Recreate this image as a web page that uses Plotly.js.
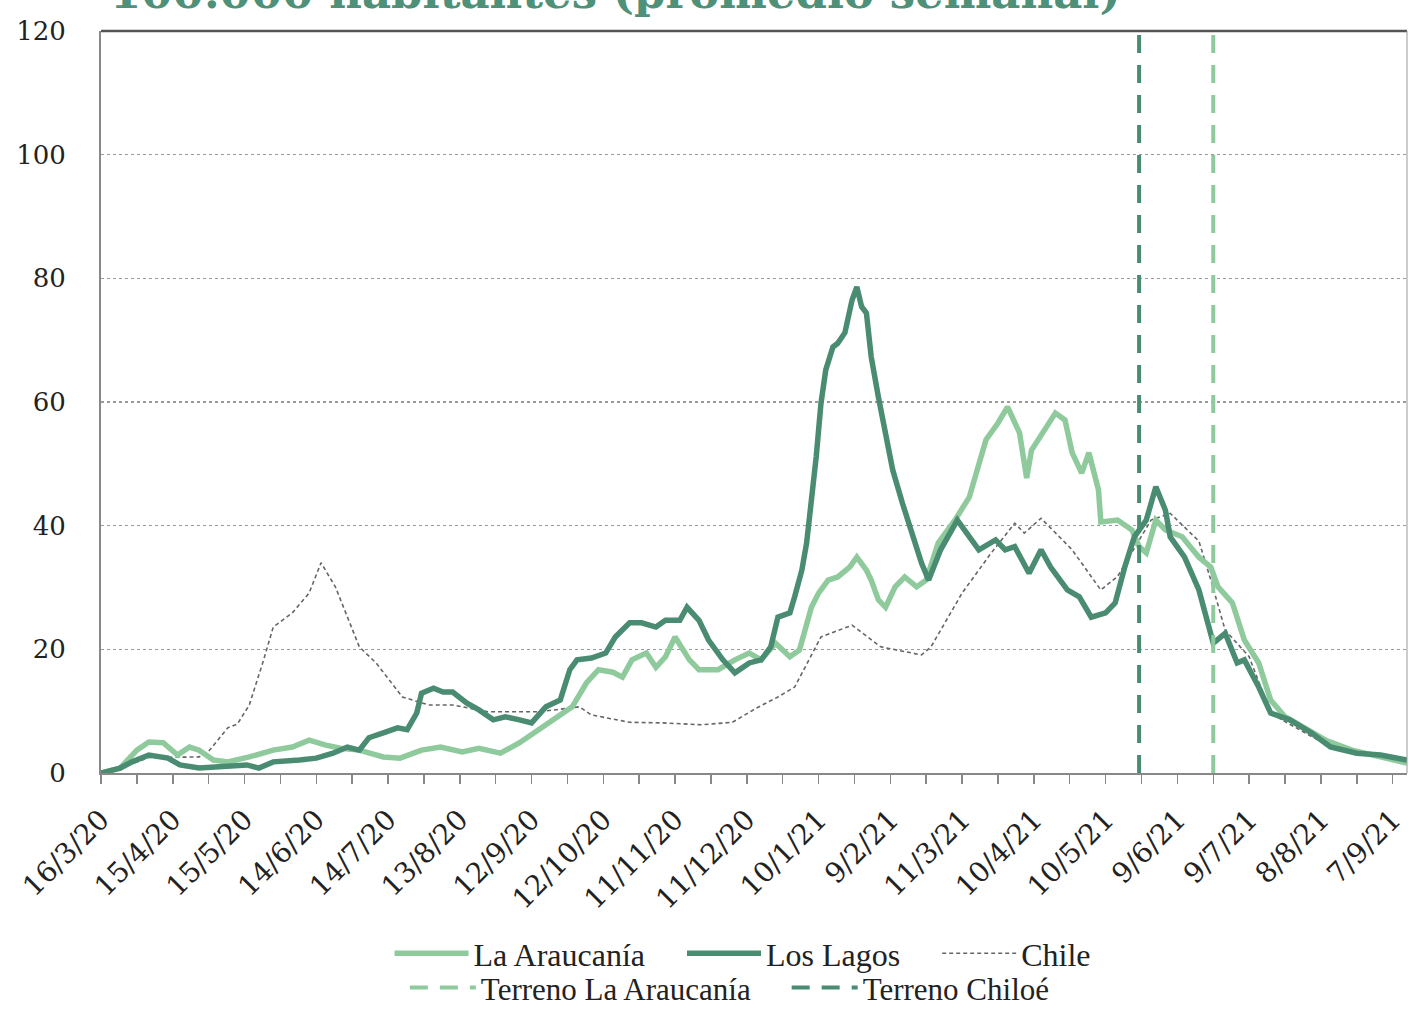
<!DOCTYPE html>
<html>
<head>
<meta charset="utf-8">
<script src="https://cdn.plot.ly/plotly-3.0.1.min.js"></script>
<style>html,body{margin:0;padding:0;background:#fff;}#chart{width:1409px;height:1010px;}</style>
</head>
<body>
<div id="chart"></div>
<script>
// ---- Data ----
const chileDates = ['2020-03-16','2020-03-24','2020-04-05','2020-04-17','2020-04-26','2020-04-30','2020-05-08','2020-05-12','2020-05-17','2020-05-23','2020-05-27','2020-06-04','2020-06-11','2020-06-16','2020-06-22','2020-07-02','2020-07-09','2020-07-20','2020-07-31','2020-08-10','2020-08-25','2020-09-15','2020-10-02','2020-10-07','2020-10-23','2020-11-06','2020-11-22','2020-12-05','2020-12-15','2020-12-24','2020-12-31','2021-01-11','2021-01-24','2021-02-05','2021-02-22','2021-02-26','2021-03-07','2021-03-11','2021-03-23','2021-04-02','2021-04-06','2021-04-13','2021-04-26','2021-05-08','2021-05-15','2021-05-29','2021-06-06','2021-06-18','2021-06-23','2021-06-29','2021-07-09','2021-07-18','2021-07-25','2021-08-12','2021-08-26','2021-09-13'];
const chileValues = [0,0.8,2.5,2.6,2.6,3.5,7.3,7.9,11.0,18.3,23.6,25.9,29.1,34.0,30.1,20.4,17.8,12.3,11.0,11.0,9.9,9.9,10.7,9.4,8.2,8.1,7.8,8.2,10.5,12.3,13.9,22.0,23.9,20.4,19.1,20.4,26.4,29.1,35.5,40.4,38.8,41.2,36.1,29.6,31.8,40.9,42.0,37.5,31.2,23.1,18.8,9.7,8.1,4.2,3.2,1.8];

const araucaniaDates = ['2020-03-16','2020-03-24','2020-03-31','2020-04-05','2020-04-11','2020-04-17','2020-04-22','2020-04-26','2020-05-02','2020-05-08','2020-05-17','2020-05-27','2020-06-04','2020-06-11','2020-06-18','2020-06-24','2020-07-02','2020-07-12','2020-07-19','2020-07-28','2020-08-05','2020-08-14','2020-08-21','2020-08-30','2020-09-07','2020-09-15','2020-09-22','2020-09-29','2020-10-05','2020-10-10','2020-10-16','2020-10-20','2020-10-24','2020-10-30','2020-11-03','2020-11-07','2020-11-11','2020-11-17','2020-11-21','2020-11-29','2020-12-06','2020-12-12','2020-12-17','2020-12-23','2020-12-29','2021-01-02','2021-01-07','2021-01-10','2021-01-14','2021-01-18','2021-01-23','2021-01-26','2021-01-30','2021-02-01','2021-02-04','2021-02-07','2021-02-11','2021-02-15','2021-02-20','2021-02-24','2021-03-01','2021-03-08','2021-03-14','2021-03-21','2021-03-26','2021-03-30','2021-04-04','2021-04-07','2021-04-09','2021-04-15','2021-04-19','2021-04-23','2021-04-26','2021-04-30','2021-05-03','2021-05-07','2021-05-08','2021-05-15','2021-05-21','2021-05-24','2021-05-27','2021-05-31','2021-06-04','2021-06-11','2021-06-18','2021-06-23','2021-06-26','2021-07-02','2021-07-07','2021-07-13','2021-07-18','2021-07-24','2021-08-01','2021-08-10','2021-08-21','2021-09-02','2021-09-13'];
const araucaniaValues = [0,0.8,3.7,5.0,4.9,2.9,4.2,3.7,2.1,1.8,2.6,3.7,4.2,5.3,4.5,4.0,3.7,2.6,2.4,3.7,4.2,3.4,4.0,3.2,4.9,7.0,8.6,10.7,14.6,16.7,16.3,15.5,18.3,19.4,17.1,18.8,22.0,18.3,16.7,16.7,18.3,19.4,18.3,21.0,18.8,19.9,26.8,29.1,31.2,31.7,33.3,34.9,32.8,31.2,28.0,26.8,30.1,31.7,30.1,31.2,37.2,40.9,44.6,53.9,56.6,59.2,55.0,47.7,52.2,56.0,58.2,57.1,51.8,48.5,51.8,45.8,40.6,40.9,39.3,36.6,35.6,40.9,39.3,38.2,34.9,33.3,30.1,27.5,21.5,17.8,11.8,9.1,7.4,5.3,3.7,2.6,1.6];

const lagosDates = ['2020-03-16','2020-03-24','2020-03-29','2020-04-05','2020-04-13','2020-04-18','2020-04-26','2020-05-08','2020-05-16','2020-05-21','2020-05-27','2020-06-07','2020-06-14','2020-06-21','2020-06-27','2020-07-02','2020-07-06','2020-07-12','2020-07-18','2020-07-22','2020-07-26','2020-07-28','2020-08-02','2020-08-06','2020-08-10','2020-08-16','2020-08-21','2020-08-27','2020-09-01','2020-09-07','2020-09-12','2020-09-18','2020-09-24','2020-09-28','2020-10-01','2020-10-07','2020-10-13','2020-10-17','2020-10-23','2020-10-28','2020-11-03','2020-11-07','2020-11-13','2020-11-16','2020-11-21','2020-11-25','2020-12-01','2020-12-06','2020-12-12','2020-12-17','2020-12-21','2020-12-24','2020-12-29','2020-12-31','2021-01-03','2021-01-05','2021-01-07','2021-01-09','2021-01-11','2021-01-13','2021-01-16','2021-01-18','2021-01-21','2021-01-24','2021-01-26','2021-01-28','2021-01-30','2021-02-01','2021-02-04','2021-02-07','2021-02-10','2021-02-14','2021-02-18','2021-02-22','2021-02-25','2021-03-02','2021-03-09','2021-03-14','2021-03-18','2021-03-25','2021-03-29','2021-04-02','2021-04-08','2021-04-13','2021-04-17','2021-04-24','2021-04-29','2021-05-04','2021-05-10','2021-05-14','2021-05-18','2021-05-22','2021-05-27','2021-05-31','2021-06-04','2021-06-06','2021-06-12','2021-06-18','2021-06-22','2021-06-24','2021-06-29','2021-07-04','2021-07-07','2021-07-13','2021-07-18','2021-07-26','2021-08-04','2021-08-12','2021-08-23','2021-09-02','2021-09-13'];
const lagosValues = [0,0.8,1.8,2.9,2.4,1.3,0.8,1.0,1.3,0.8,1.8,2.1,2.4,3.2,4.2,3.7,5.7,6.5,7.3,7.0,9.7,12.9,13.7,13.1,13.1,11.3,10.2,8.6,9.1,8.6,8.1,10.7,11.8,16.7,18.3,18.6,19.4,22.0,24.3,24.3,23.6,24.7,24.7,26.8,24.7,21.5,18.3,16.2,17.8,18.3,20.4,25.2,25.9,28.5,32.8,37.2,43.7,51.1,59.8,65.2,68.9,69.5,71.2,76.5,78.6,75.4,74.4,67.3,60.8,54.3,49.0,43.7,38.8,34.0,31.2,36.1,40.9,38.2,36.1,37.7,36.1,36.6,32.3,36.1,33.3,29.6,28.5,25.2,25.9,27.5,33.3,38.2,40.9,46.3,42.5,38.2,34.9,29.6,24.3,21.0,22.6,17.8,18.3,13.9,9.7,8.6,6.5,4.2,3.2,2.9,2.1];

const terrenoChiloeDate = '2021-05-24';
const terrenoAraucaniaDate = '2021-06-24';

const tickDates = ['2020-03-16','2020-04-15','2020-05-15','2020-06-14','2020-07-14','2020-08-13','2020-09-12','2020-10-12','2020-11-11','2020-12-11','2021-01-10','2021-02-09','2021-03-11','2021-04-10','2021-05-10','2021-06-09','2021-07-09','2021-08-08','2021-09-07'];
const tickLabels = ['16/3/20','15/4/20','15/5/20','14/6/20','14/7/20','13/8/20','12/9/20','12/10/20','11/11/20','11/12/20','10/1/21','9/2/21','11/3/21','10/4/21','10/5/21','9/6/21','9/7/21','8/8/21','7/9/21'];

const titleText = '100.000 habitantes (promedio semanal)';

// ---- Styles ----
const LIGHT = '#8fca9d';
const DARK = '#4a8c72';
const serif = 'DejaVu Serif, serif';
const legendFont = 'Liberation Serif, serif';
const PAD = '\u00a0\u00a0\u00a0\u00a0';

const traces = [
  {x: chileDates, y: chileValues, name: 'Chile', type: 'scatter', mode: 'lines',
   line: {color: '#666', width: 1.6, dash: '4px,3px'}, legendrank: 3},
  {x: araucaniaDates, y: araucaniaValues, name: 'La Araucanía' + PAD, type: 'scatter', mode: 'lines',
   line: {color: LIGHT, width: 5.5}, legendrank: 1},
  {x: lagosDates, y: lagosValues, name: 'Los Lagos' + PAD, type: 'scatter', mode: 'lines',
   line: {color: DARK, width: 5.5}, legendrank: 2},
  {x: [terrenoAraucaniaDate, terrenoAraucaniaDate], y: [0, 120], name: 'Terreno La Araucanía' + PAD, type: 'scatter', mode: 'lines',
   line: {color: LIGHT, width: 4, dash: '18px,12px'}, legend: 'legend2', legendrank: 1},
  {x: [terrenoChiloeDate, terrenoChiloeDate], y: [0, 120], name: 'Terreno Chiloé', type: 'scatter', mode: 'lines',
   line: {color: DARK, width: 4, dash: '18px,12px'}, legend: 'legend2', legendrank: 2}
];

const layout = {
  width: 1409, height: 1010,
  margin: {l: 101, r: 2, t: 31, b: 237, autoexpand: false},
  paper_bgcolor: '#fff', plot_bgcolor: '#fff',
  font: {family: serif, size: 26, color: '#222'},
  showlegend: true,
  xaxis: {
    type: 'date', automargin: false,
    range: ['2020-03-16', '2021-09-13'],
    tickmode: 'array', tickvals: tickDates, ticktext: tickLabels,
    tickangle: -45, ticks: 'outside', ticklen: 9, tickcolor: '#888', tickwidth: 1.5,
    minor: {tick0: '2020-03-31', dtick: 30 * 86400000, ticks: 'outside', ticklen: 9, tickcolor: '#888', tickwidth: 1.5, showgrid: false},
    showgrid: false, showline: true, linecolor: '#888', linewidth: 2,
    zeroline: false, tickfont: {family: serif, size: 28, color: '#222'},
    ticklabelstandoff: 8
  },
  yaxis: {
    range: [0, 120], tickmode: 'array', tickvals: [0,20,40,60,80,100,120], automargin: false,
    showgrid: true, gridcolor: '#9a9a9a', gridwidth: 1.3, griddash: 'dot',
    showline: true, linecolor: '#888', linewidth: 2, zeroline: false,
    ticks: '', tickfont: {family: serif, size: 26, color: '#222'},
    ticklabelstandoff: 28
  },
  shapes: [
    {type: 'line', xref: 'paper', yref: 'paper', x0: 0, x1: 1, y0: 1, y1: 1, line: {color: '#555', width: 2.5}},
    {type: 'line', xref: 'paper', yref: 'paper', x0: 1, x1: 1, y0: 0, y1: 1, line: {color: '#999', width: 1}}
  ],
  annotations: [
    {text: '<b>' + titleText + '</b>', xref: 'paper', yref: 'paper', x: 0.005, y: 1.052,
     xanchor: 'left', yanchor: 'middle', showarrow: false,
     font: {family: serif, size: 45, color: '#4f9178'}}
  ],
  legend: {
    orientation: 'h', xref: 'container', yref: 'container',
    x: 0.527, xanchor: 'center', y: 0.056, yanchor: 'middle',
    font: {family: legendFont, size: 32, color: '#222'}, itemwidth: 74,
    bgcolor: 'rgba(0,0,0,0)'
  },
  legend2: {
    orientation: 'h', xref: 'container', yref: 'container',
    x: 0.518, xanchor: 'center', y: 0.022, yanchor: 'middle',
    font: {family: legendFont, size: 31, color: '#222'}, itemwidth: 66,
    bgcolor: 'rgba(0,0,0,0)'
  }
};

Plotly.newPlot('chart', traces, layout, {displayModeBar: false, staticPlot: true});
</script>
</body>
</html>
